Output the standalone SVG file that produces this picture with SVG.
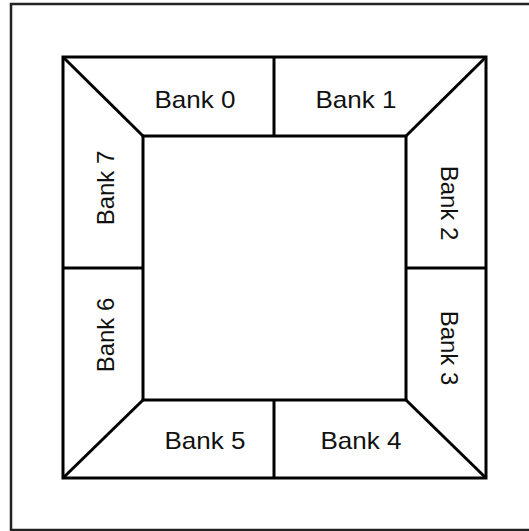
<svg xmlns="http://www.w3.org/2000/svg" width="529" height="531" viewBox="0 0 529 531">
<style>
.ln{fill:none;stroke:#000;stroke-width:3;stroke-linejoin:miter}
.t{font-family:"Liberation Sans",Arial,sans-serif;font-size:24px;fill:#111;text-anchor:middle}
</style>
<rect x="0" y="0" width="529" height="531" fill="#fff"/>
<rect id="frame" x="11" y="4" width="530" height="526" fill="none" stroke="#222" stroke-width="2.5"/>
<g id="connectors" class="ln">
<rect x="63" y="57" width="423" height="421"/>
<rect x="143" y="136" width="263" height="264"/>
<line x1="63" y1="57" x2="143" y2="136"/>
<line x1="486" y1="57" x2="406" y2="136"/>
<line x1="63" y1="478" x2="143" y2="400"/>
<line x1="486" y1="478" x2="406" y2="400"/>
<line x1="274" y1="57" x2="274" y2="136"/>
<line x1="274" y1="400" x2="274" y2="478"/>
<line x1="63" y1="268" x2="143" y2="268"/>
<line x1="406" y1="268" x2="486" y2="268"/>
</g>
<g id="bank0"><text class="t" x="195" y="108" textLength="81" lengthAdjust="spacingAndGlyphs">Bank 0</text></g>
<g id="bank1"><text class="t" x="356" y="108" textLength="81" lengthAdjust="spacingAndGlyphs">Bank 1</text></g>
<g id="bank2"><text class="t" transform="translate(441,203) rotate(90)">Bank 2</text></g>
<g id="bank3"><text class="t" transform="translate(441,348) rotate(90)">Bank 3</text></g>
<g id="bank4"><text class="t" x="361" y="449" textLength="81" lengthAdjust="spacingAndGlyphs">Bank 4</text></g>
<g id="bank5"><text class="t" x="205" y="449" textLength="81" lengthAdjust="spacingAndGlyphs">Bank 5</text></g>
<g id="bank6"><text class="t" transform="translate(114,335) rotate(-90)">Bank 6</text></g>
<g id="bank7"><text class="t" transform="translate(114,188) rotate(-90)">Bank 7</text></g>
</svg>
